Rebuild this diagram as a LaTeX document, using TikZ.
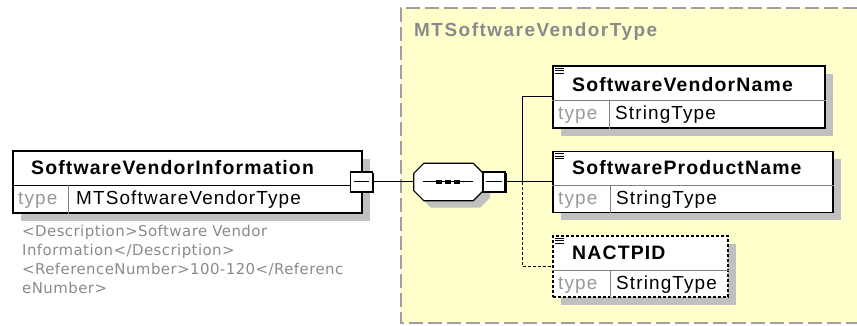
\documentclass[tikz,border=0pt]{standalone}
\usepackage{fontspec}
\setmainfont{Liberation Sans}
\newfontfamily\namefont[LetterSpace=6]{Liberation Sans}
\newfontfamily\titlefont[LetterSpace=8]{Liberation Sans}
\newfontfamily\valuefont[LetterSpace=6]{Liberation Sans}
\newfontfamily\notefont[LetterSpace=3]{DejaVu Sans}
\usetikzlibrary{shadows}
\definecolor{panelyellow}{HTML}{FFFFCC}
\definecolor{panelborder}{HTML}{A0A0A0}
\definecolor{shadowgray}{HTML}{C0C0C0}
\definecolor{labelgray}{HTML}{999999}
\definecolor{notegray}{HTML}{8A8A8A}
\begin{document}
\begin{tikzpicture}[line join=miter,
  elem/.style={draw=black,line width=1.2bp,fill=white,inner sep=0pt,
    general shadow={fill=shadowgray,shadow xshift=8bp,shadow yshift=-8bp}},
  optelem/.style={elem,dash pattern=on 3bp off 2bp},
  minusbox/.style={draw=black,line width=1.2bp,fill=white,inner sep=0pt,
    minimum width=22bp,minimum height=20bp,
    general shadow={fill=black,shadow xshift=1.5bp,shadow yshift=-1.5bp}},
  divider/.style={draw=gray,line width=0.8bp},
  namelbl/.style={anchor=west,inner sep=0pt,font=\namefont\bfseries\fontsize{19.5}{20}\selectfont},
  typelbl/.style={anchor=west,inner sep=0pt,text=labelgray,font=\valuefont\fontsize{19}{20}\selectfont},
  valuelbl/.style={anchor=west,inner sep=0pt,font=\valuefont\fontsize{19}{20}\selectfont},
  conn/.style={draw=black,line width=1bp},
  optconn/.style={conn,dash pattern=on 3bp off 2bp},
]
\useasboundingbox (0bp,0bp) rectangle (857bp,326bp);
%%
\fill [panelyellow] (401bp,3bp) rectangle (857bp,318bp);
\draw [panelborder,line width=1.2bp,dash pattern=on 14bp off 5bp] (857bp,318bp) -- (401bp,318bp) -- (401bp,3bp) -- (857bp,3bp);
\node (node_type) at (414bp,294bp) [anchor=west,inner sep=0pt,text=notegray,font=\titlefont\bfseries\fontsize{19}{20}\selectfont] {MTSoftwareVendorType};
%
\node (node_info) at (187.5bp,144bp) [elem,minimum width=349bp,minimum height=62bp] {};
  \draw [black,line width=0.8bp] (node_info.west |- 0,141bp) -- (node_info.east |- 0,141bp);
  \draw [divider] (68bp,141bp) -- (node_info.south -| 68bp,0);
  \node (node_info_name) at (31bp,158bp) [namelbl] {SoftwareVendorInformation};
  \node (node_info_type) at (18bp,126bp) [typelbl] {type};
  \node (node_info_value) at (76bp,126bp) [valuelbl] {MTSoftwareVendorType};
  \node (node_info_m) at (361.5bp,144bp) [minusbox] {};
  \draw [black,line width=1bp] ([xshift=4bp]node_info_m.west) -- ([xshift=-4bp]node_info_m.east);
\node (node_note) at (22bp,101bp) [anchor=north west,inner sep=0pt,align=left,text=notegray,font=\notefont\fontsize{15}{19}\selectfont] {<Description>Software Vendor\\Information</Description>\\<ReferenceNumber>100-120</Referenc\\eNumber>};
%
\node (node_seq) at (448.5bp,144bp) [minimum width=69bp,minimum height=37bp,inner sep=0pt] {};
  \path [draw=black,line width=1.2bp,fill=white,general shadow={fill=shadowgray,shadow xshift=7bp,shadow yshift=-7bp}]
    ([xshift=10bp]node_seq.north west) -- ([xshift=-10bp]node_seq.north east) -- ([yshift=-10bp]node_seq.north east)
    -- ([yshift=10bp]node_seq.south east) -- ([xshift=-10bp]node_seq.south east) -- ([xshift=10bp]node_seq.south west)
    -- ([yshift=10bp]node_seq.south west) -- ([yshift=-10bp]node_seq.north west) -- cycle;
  \draw [black,line width=1bp] (423bp,144bp) -- (473bp,144bp);
  \draw [black,line width=4.5bp,dash pattern=on 6bp off 3bp] (436bp,144bp) -- (463bp,144bp);
  \node (node_seq_m) at (494bp,144bp) [minusbox] {};
  \draw [black,line width=1bp] ([xshift=4bp]node_seq_m.west) -- ([xshift=-4bp]node_seq_m.east);
%
\node (node_vname) at (689bp,229bp) [elem,minimum width=272bp,minimum height=62bp] {};
  \draw [divider] (node_vname.west |- 0,226bp) -- (node_vname.east |- 0,226bp);
  \draw [divider] (609bp,226bp) -- (node_vname.south -| 609bp,0);
  \draw [black,line width=0.8bp] ([shift={(3bp,-3bp)}]node_vname.north west) -- ++(9bp,0) ([shift={(3bp,-5.5bp)}]node_vname.north west) -- ++(9bp,0) ([shift={(3bp,-8bp)}]node_vname.north west) -- ++(9bp,0);
  \node (node_vname_name) at (572bp,241bp) [namelbl] {SoftwareVendorName};
  \node (node_vname_type) at (558bp,211bp) [typelbl] {type};
  \node (node_vname_value) at (615bp,211bp) [valuelbl] {StringType};
\node (node_pname) at (693bp,144bp) [elem,minimum width=280bp,minimum height=61bp] {};
  \draw [divider] (node_pname.west |- 0,141bp) -- (node_pname.east |- 0,141bp);
  \draw [divider] (610bp,141bp) -- (node_pname.south -| 610bp,0);
  \draw [black,line width=0.8bp] ([shift={(3bp,-3bp)}]node_pname.north west) -- ++(9bp,0) ([shift={(3bp,-5.5bp)}]node_pname.north west) -- ++(9bp,0) ([shift={(3bp,-8bp)}]node_pname.north west) -- ++(9bp,0);
  \node (node_pname_name) at (572bp,158bp) [namelbl] {SoftwareProductName};
  \node (node_pname_type) at (558bp,126bp) [typelbl] {type};
  \node (node_pname_value) at (616bp,126bp) [valuelbl] {StringType};
\node (node_nactpid) at (640.5bp,59.5bp) [optelem,minimum width=175bp,minimum height=61bp] {};
  \draw [divider] (node_nactpid.west |- 0,56bp) -- (node_nactpid.east |- 0,56bp);
  \draw [divider] (610bp,56bp) -- (node_nactpid.south -| 610bp,0);
  \draw [black,line width=0.8bp] ([shift={(3bp,-3bp)}]node_nactpid.north west) -- ++(9bp,0) ([shift={(3bp,-5.5bp)}]node_nactpid.north west) -- ++(9bp,0) ([shift={(3bp,-8bp)}]node_nactpid.north west) -- ++(9bp,0);
  \node (node_nactpid_name) at (572bp,73bp) [namelbl] {NACTPID};
  \node (node_nactpid_type) at (558bp,41bp) [typelbl] {type};
  \node (node_nactpid_value) at (616bp,41bp) [valuelbl] {StringType};
%
\coordinate (bus) at (522bp,144bp);
\draw [conn] (node_info_m.east) -- (node_seq.west);
\draw [conn] (node_seq_m.east) -- (node_pname.west);
\draw [conn] (bus) |- (node_vname.west);
\draw [optconn] (bus) |- (node_nactpid.west);
%
\end{tikzpicture}
\end{document}
